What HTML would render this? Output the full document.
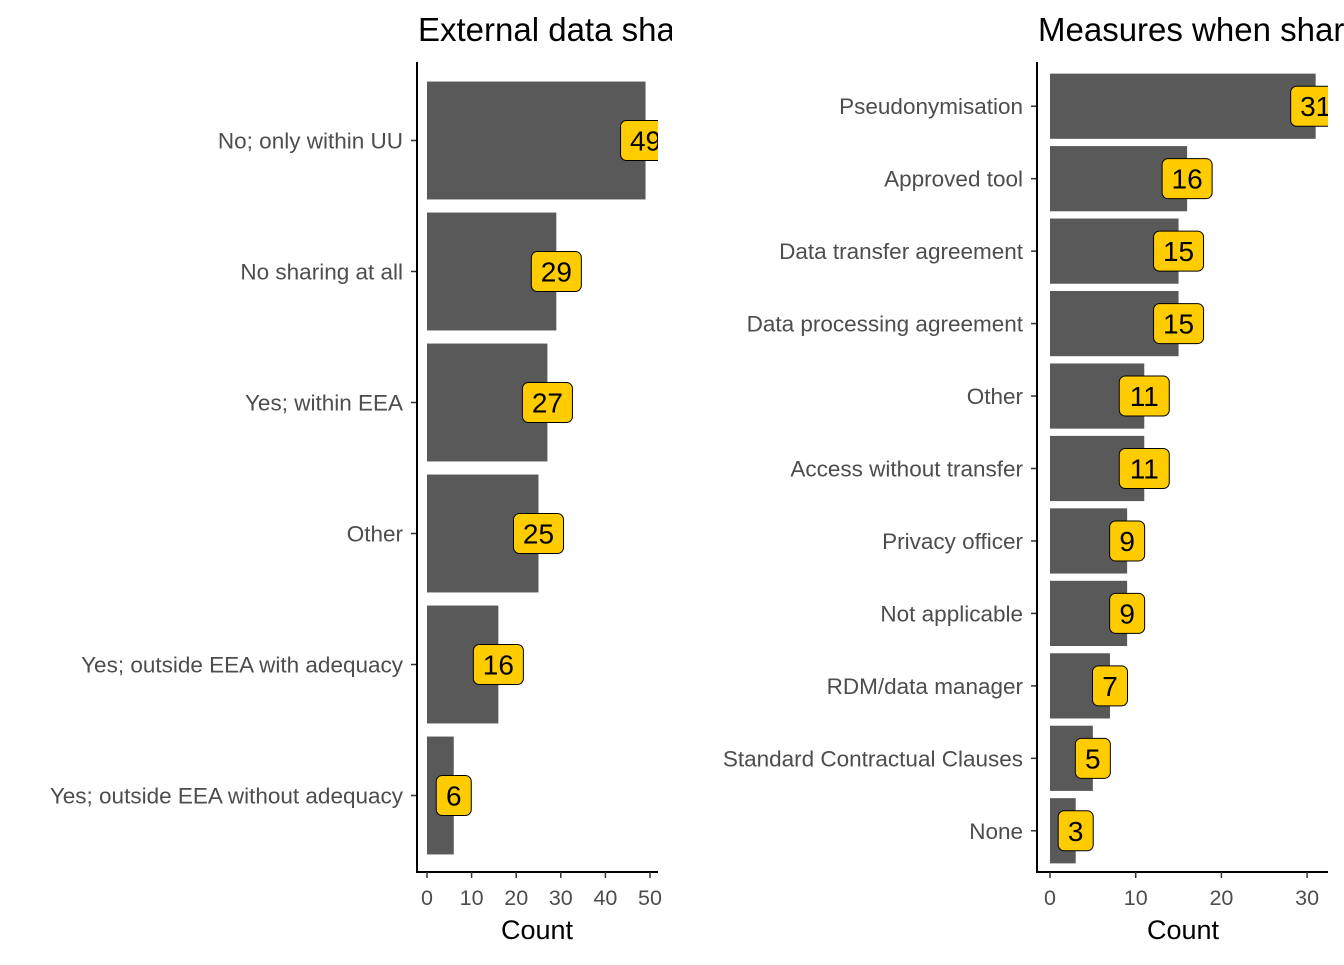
<!DOCTYPE html>
<html><head><meta charset="utf-8"><style>
body{margin:0;background:#fff;font-family:"Liberation Sans",sans-serif}
svg text{font-family:"Liberation Sans",sans-serif}
</style></head><body>
<svg id="c" width="1344" height="960" xmlns="http://www.w3.org/2000/svg">
<defs>
<clipPath id="clipL"><rect x="0" y="0" width="658" height="960"/></clipPath>
<clipPath id="clipLT"><rect x="0" y="0" width="672" height="960"/></clipPath>
<clipPath id="clipR"><rect x="0" y="0" width="1328" height="960"/></clipPath>
</defs>
<g id="L" clip-path="url(#clipL)"></g>
<g id="R" clip-path="url(#clipR)"></g>
<text x="418" y="41" font-size="33" clip-path="url(#clipLT)">External data sharing</text>
<text x="1038" y="41" font-size="33">Measures when sharing</text>
</svg>
<script>
const leftCats=["No; only within UU","No sharing at all","Yes; within EEA","Other","Yes; outside EEA with adequacy","Yes; outside EEA without adequacy"];
const leftVals=[49,29,27,25,16,6];
const leftTicks=[0,10,20,30,40,50];
const rightCats=["Pseudonymisation","Approved tool","Data transfer agreement","Data processing agreement","Other","Access without transfer","Privacy officer","Not applicable","RDM/data manager","Standard Contractual Clauses","None"];
const rightVals=[31,16,15,15,11,11,9,9,7,5,3];
const rightTicks=[0,10,20,30];
const NS="http://www.w3.org/2000/svg";
function mk(p,t,a){const e=document.createElementNS(NS,t);for(const k in a)e.setAttribute(k,a[k]);p.appendChild(e);return e;}
function panel(g,cats,vals,ticks,o){
  const sx=v=>o.x0+v*o.k;
  const n=cats.length, step=(o.yb-o.yt)/n;
  const cy=i=>o.yt+step*(i+0.5);
  const bh=step*o.bw;
  cats.forEach((c,i)=>{
    const r=mk(g,'rect',{x:sx(0),y:cy(i)-bh/2,width:sx(vals[i])-sx(0),height:bh,fill:'#595959'});
    
    
    mk(g.ownerSVGElement,'line',{x1:o.ax-6,x2:o.ax,y1:cy(i),y2:cy(i),stroke:'#333','stroke-width':1.5});
    const lb=mk(g.ownerSVGElement,'text',{x:o.ax-14,y:cy(i)+8,'font-size':22.5,fill:'#4d4d4d','text-anchor':'end'});
    lb.textContent=c;
    
    
    const s=String(vals[i]), w=s.length>1?50:35;
    const bx=mk(g,'rect',{x:sx(vals[i])-w/2,y:cy(i)-20,width:w,height:40,rx:6,fill:'#FFCC00',stroke:'#000','stroke-width':1});
    
    
    const vt=mk(g,'text',{x:sx(vals[i]),y:cy(i)+10,'font-size':28,'text-anchor':'middle',fill:'#000'});
    vt.textContent=s;
    
    
  });
  const svg=g.ownerSVGElement;
  mk(svg,'line',{x1:o.ax,x2:o.ax,y1:o.top,y2:o.ab+1,stroke:'#000','stroke-width':2});
  mk(svg,'line',{x1:o.ax,x2:o.xe,y1:o.ab,y2:o.ab,stroke:'#000','stroke-width':2});
  ticks.forEach(v=>{
    mk(svg,'line',{x1:sx(v),x2:sx(v),y1:o.ab,y2:o.ab+6,stroke:'#333','stroke-width':1.5});
    const tl=mk(svg,'text',{x:sx(v),y:o.ab+33,'font-size':21.5,fill:'#4d4d4d','text-anchor':'middle'});
    tl.textContent=v;
    
    
  });
  const xt=mk(svg,'text',{x:o.tx,y:939,'font-size':27,'text-anchor':'middle',fill:'#000'});
  xt.textContent='Count';
  
  
}
panel(document.getElementById('L'),leftCats,leftVals,leftTicks,{x0:427,k:4.46,yt:75,yb:861,bw:0.9,ax:417,ab:872,top:62,xe:658,tx:537});
panel(document.getElementById('R'),rightCats,rightVals,rightTicks,{x0:1050,k:8.57,yt:70,yb:867,bw:0.9,ax:1037,ab:872,top:62,xe:1328,tx:1183});
</script>
</body></html>
